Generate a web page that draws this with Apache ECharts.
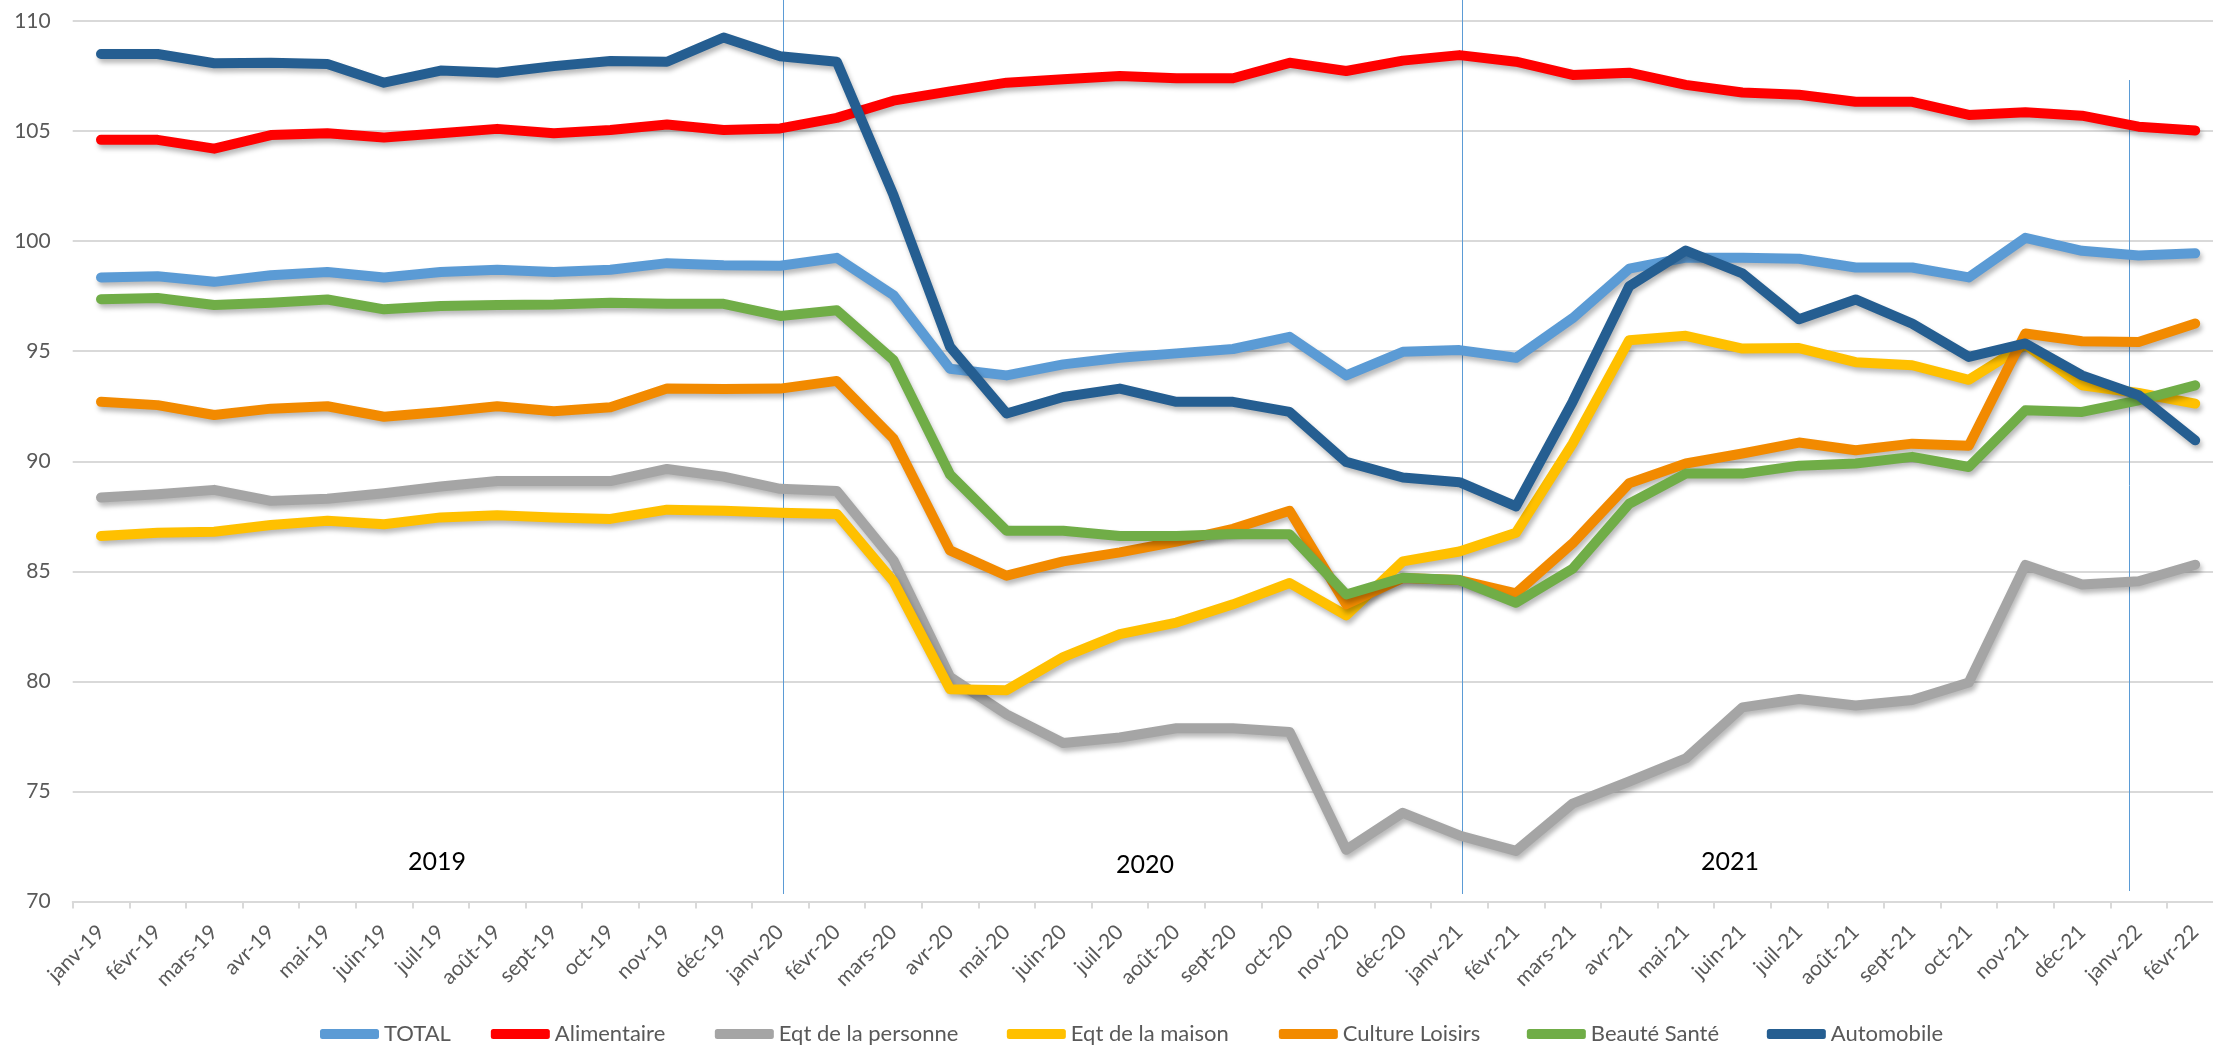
<!DOCTYPE html>
<html>
<head>
<meta charset="utf-8">
<script src="https://cdn.jsdelivr.net/npm/echarts@6/dist/echarts.min.js"></script>
<style>
html,body{margin:0;padding:0;background:#fff;}
#chart{width:2213px;height:1045px;}
</style>
</head>
<body>
<div id="chart"></div>
<script>
const categories = ['janv-19','févr-19','mars-19','avr-19','mai-19','juin-19','juil-19','août-19','sept-19','oct-19','nov-19','déc-19',
  'janv-20','févr-20','mars-20','avr-20','mai-20','juin-20','juil-20','août-20','sept-20','oct-20','nov-20','déc-20',
  'janv-21','févr-21','mars-21','avr-21','mai-21','juin-21','juil-21','août-21','sept-21','oct-21','nov-21','déc-21',
  'janv-22','févr-22'];

const total = [98.35,98.4,98.15,98.45,98.6,98.35,98.6,98.7,98.6,98.7,99.0,98.9,
  98.88,99.24,97.55,94.2,93.9,94.4,94.7,94.9,95.1,95.65,93.9,94.97,
  95.05,94.7,96.5,98.75,99.25,99.25,99.2,98.8,98.8,98.35,100.15,99.56,99.35,99.45];

const alimentaire = [104.6,104.6,104.2,104.82,104.9,104.71,104.9,105.1,104.9,105.05,105.3,105.05,
  105.12,105.6,106.38,106.8,107.2,107.35,107.5,107.4,107.4,108.1,107.73,108.2,
  108.45,108.15,107.55,107.65,107.1,106.75,106.65,106.33,106.33,105.73,105.85,105.7,105.2,105.03];

const eqtPersonne = [88.35,88.5,88.7,88.2,88.3,88.55,88.85,89.1,89.1,89.1,89.65,89.3,
  88.75,88.65,85.5,80.2,78.5,77.2,77.45,77.87,77.87,77.7,72.35,74.03,
  73.0,72.3,74.45,75.45,76.5,78.82,79.2,78.9,79.15,79.95,85.29,84.4,84.55,85.3];

const eqtMaison = [86.6,86.75,86.8,87.1,87.3,87.14,87.45,87.55,87.45,87.38,87.8,87.75,
  87.66,87.6,84.55,79.64,79.6,81.1,82.15,82.67,83.5,84.47,83.0,85.45,
  85.9,86.75,90.8,95.5,95.7,95.12,95.14,94.5,94.36,93.7,95.3,93.45,93.1,92.62];

const cultureLoisirs = [92.7,92.55,92.1,92.39,92.5,92.02,92.24,92.5,92.27,92.45,93.3,93.28,
  93.3,93.65,91.03,85.95,84.8,85.45,85.86,86.35,86.93,87.75,83.5,84.7,
  84.6,84.0,86.27,89.0,89.9,90.35,90.85,90.5,90.8,90.7,95.8,95.45,95.42,96.26];

const beauteSante = [97.36,97.42,97.1,97.2,97.35,96.9,97.05,97.1,97.12,97.2,97.15,97.15,
  96.6,96.86,94.6,89.4,86.84,86.84,86.6,86.6,86.7,86.68,83.95,84.71,
  84.6,83.57,85.12,88.07,89.44,89.44,89.8,89.9,90.2,89.74,92.32,92.24,92.77,93.45];

const automobile = [108.5,108.5,108.08,108.1,108.05,107.2,107.75,107.65,107.95,108.18,108.15,109.25,
  108.4,108.15,102.1,95.2,92.17,92.92,93.3,92.7,92.7,92.24,89.97,89.26,
  89.05,87.95,92.7,97.95,99.57,98.53,96.45,97.35,96.25,94.74,95.35,93.9,93.0,90.95];

const seriesNames = ['TOTAL','Alimentaire','Eqt de la personne','Eqt de la maison','Culture Loisirs','Beauté Santé','Automobile'];
const seriesData = [total, alimentaire, eqtPersonne, eqtMaison, cultureLoisirs, beauteSante, automobile];
const seriesColors = ['#5B9BD5','#FF0000','#A5A5A5','#FFC000','#F28A00','#70AD47','#255E91'];

const yearLabels = ['2019','2020','2021'];
const dividerCategories = ['janv-20','janv-21','janv-22'];

// layout-only: text box widths of legend entries
const legendTextWidths = [60, 120, 188, 168, 144, 136, 120];

const FONT = 'Lato, "Noto Sans", sans-serif';
const chart = echarts.init(document.getElementById('chart'), null, {renderer:'canvas'});

const series = seriesNames.map((name, i) => ({
  name: name,
  type: 'line',
  data: seriesData[i],
  symbol: 'none',
  smooth: false,
  color: seriesColors[i],
  lineStyle: {
    width: 10, color: seriesColors[i], cap: 'round', join: 'round',
    shadowColor: 'rgba(0,0,0,0.28)', shadowBlur: 5, shadowOffsetX: 2, shadowOffsetY: 4
  },
  emphasis: {disabled: true},
  z: 2 + i
}));

chart.setOption({
  animation: false,
  backgroundColor: '#ffffff',
  grid: {left: 72.7, width: 2150.8, top: 21, bottom: 143.5, containLabel: false, outerBoundsMode: 'none'},
  legend: {
    data: seriesNames.map((n, i) => ({name: n, textStyle: {width: legendTextWidths[i]}})),
    left: 320, top: 1023,
    padding: 0,
    icon: 'roundRect',
    itemWidth: 59, itemHeight: 10, itemGap: 40,
    textStyle: {fontFamily: FONT, fontSize: 22, lineHeight: 22, color: '#595959'},
    selectedMode: false
  },
  xAxis: {
    type: 'category',
    data: categories,
    boundaryGap: true,
    axisLine: {show: true, lineStyle: {color: '#D9D9D9', width: 2}},
    axisTick: {show: true, length: 7, lineStyle: {color: '#D9D9D9', width: 2}},
    axisLabel: {interval: 0, rotate: 45, margin: 27, fontFamily: FONT, fontSize: 21, color: '#595959'},
    splitLine: {show: false}
  },
  yAxis: {
    type: 'value',
    min: 70, max: 110, interval: 5,
    axisLine: {show: false},
    axisTick: {show: false},
    axisLabel: {margin: 22, fontFamily: FONT, fontSize: 21, color: '#595959'},
    splitLine: {show: true, lineStyle: {color: '#D9D9D9', width: 2}}
  },
  series: series
});

// vertical year dividers and year labels, placed through the chart's own scales
function addDecorations(){
  const graphics = [];
  const tops = [0, 0, 80];
  const bottoms = [894, 894, 891];
  const bandShift = [0.05, 0.05, -0.17];
  const band = chart.convertToPixel({xAxisIndex: 0}, categories[1]) - chart.convertToPixel({xAxisIndex: 0}, categories[0]);
  dividerCategories.forEach((c, i) => {
    const x = Math.round(chart.convertToPixel({xAxisIndex: 0}, c) + bandShift[i] * band) + 0.5;
    graphics.push({
      type: 'line', z: 1, silent: true,
      shape: {x1: x, y1: tops[i], x2: x, y2: bottoms[i]},
      style: {stroke: '#5B9BD5', lineWidth: 1}
    });
  });
  const yearCenters = [437, 1145, 1730];
  const yearYs = [862, 865, 862];
  yearLabels.forEach((t, i) => {
    graphics.push({
      type: 'text', z: 20, silent: true,
      x: yearCenters[i], y: yearYs[i],
      style: {text: t, fontFamily: FONT, fontSize: 25, fill: '#000000', align: 'center', verticalAlign: 'middle'}
    });
  });
  chart.setOption({graphic: graphics});
}
addDecorations();
</script>
</body>
</html>
